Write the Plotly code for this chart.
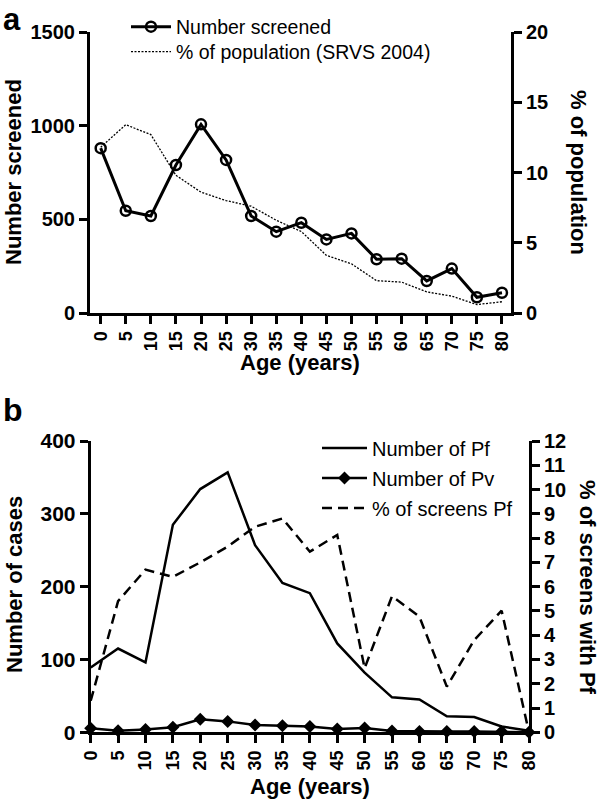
import plotly.graph_objects as go

ages = [0, 5, 10, 15, 20, 25, 30, 35, 40, 45, 50, 55, 60, 65, 70, 75, 80]
age_labels = [str(a) for a in ages]

# Panel a
number_screened = [880, 546, 518, 790, 1007, 817, 518, 434, 482, 393, 425, 287, 290, 171, 237, 84, 108]
pct_population = [11.8, 13.4, 12.7, 9.8, 8.6, 8.0, 7.6, 6.6, 5.8, 4.1, 3.5, 2.3, 2.2, 1.5, 1.2, 0.6, 0.8]

# Panel b
number_pf = [89, 115, 96, 285, 334, 357, 257, 205, 191, 122, 82, 48, 45, 22, 21, 8, 2]
number_pv = [5.5, 2, 4, 7, 18, 15, 10, 9, 8, 4.5, 6, 1.8, 1, 1, 1, 1, 0]
pct_screens_pf = [1.3, 5.4, 6.7, 6.4, 7.0, 7.65, 8.47, 8.81, 7.44, 8.13, 2.64, 5.61, 4.76, 1.88, 3.8, 5.01, 0]

FONT = "Liberation Sans, Arial, sans-serif"
BLACK = "#000000"
W, H = 600, 802


def px(x):
    return x / W


def py(y):
    return 1 - y / H


fig = go.Figure()

fig.add_trace(go.Scatter(
    x=ages, y=number_screened, name="Number screened",
    mode="lines+markers", xaxis="x", yaxis="y",
    line=dict(color=BLACK, width=3),
    marker=dict(symbol="circle-open", size=10, color=BLACK, line=dict(width=2.5, color=BLACK)),
    legend="legend", cliponaxis=False,
))
fig.add_trace(go.Scatter(
    x=ages, y=pct_population, name="% of population (SRVS 2004)",
    mode="lines", xaxis="x", yaxis="y2",
    line=dict(color=BLACK, width=1.3, dash="2px,1.5px"),
    legend="legend2",
))

fig.add_trace(go.Scatter(
    x=ages, y=number_pf, name="Number of Pf",
    mode="lines", xaxis="x2", yaxis="y3",
    line=dict(color=BLACK, width=2.5),
    legend="legend3", cliponaxis=False,
))
fig.add_trace(go.Scatter(
    x=ages, y=number_pv, name="Number of Pv",
    mode="lines+markers", xaxis="x2", yaxis="y3",
    line=dict(color=BLACK, width=2.5),
    marker=dict(symbol="diamond", size=10, color=BLACK),
    legend="legend4", cliponaxis=False,
))
fig.add_trace(go.Scatter(
    x=ages, y=pct_screens_pf, name="% of screens Pf",
    mode="lines", xaxis="x2", yaxis="y4",
    line=dict(color=BLACK, width=2.5, dash="10px,6px"),
    legend="legend5", cliponaxis=False,
))

axis_common = dict(
    showline=True, linecolor=BLACK, linewidth=3,
    ticks="outside", ticklen=8, tickwidth=3, tickcolor=BLACK,
    showgrid=False, zeroline=False, automargin=False,
)
tick_font_y = dict(family=FONT, size=20, color=BLACK, weight="bold")
tick_font_x = dict(family=FONT, size=18, color=BLACK, weight="bold")


def leg(xp, yc, size, iw):
    return dict(x=px(xp), y=py(yc), xanchor="left", yanchor="middle",
                font=dict(family=FONT, size=size, color=BLACK),
                bgcolor="rgba(0,0,0,0)", itemwidth=iw, borderwidth=0)


fig.update_layout(
    width=W, height=H,
    margin=dict(l=0, r=0, t=0, b=0),
    paper_bgcolor="white", plot_bgcolor="white",
    font=dict(family=FONT, color=BLACK),
    xaxis=dict(domain=[px(90), px(511)], anchor="y", range=[-2.13, 81.8],
               tickmode="array", tickvals=ages, ticktext=age_labels, tickangle=-90,
               tickfont=tick_font_x, **axis_common),
    yaxis=dict(domain=[py(313), py(32)], anchor="x", range=[0, 1500],
               tickvals=[0, 500, 1000, 1500], tickfont=tick_font_y, **axis_common),
    yaxis2=dict(overlaying="y", side="right", anchor="x", range=[0, 20],
                tickvals=[0, 5, 10, 15, 20], tickfont=tick_font_y, **axis_common),
    xaxis2=dict(domain=[px(90.7), px(529)], anchor="y3", range=[0, 80],
                tickmode="array", tickvals=ages, ticktext=age_labels, tickangle=-90,
                tickfont=tick_font_x, **axis_common),
    yaxis3=dict(domain=[py(732.3), py(441)], anchor="x2", range=[0, 400],
                tickvals=[0, 100, 200, 300, 400],
                tickfont=dict(family=FONT, size=21, color=BLACK, weight="bold"),
                **axis_common),
    yaxis4=dict(overlaying="y3", side="right", anchor="x2", range=[0, 12],
                tickvals=list(range(0, 13)), tickfont=tick_font_y, **axis_common),
    legend=leg(126, 27, 19.5, 40),
    legend2=leg(126, 52, 19.5, 40),
    legend3=leg(317, 448, 20, 45),
    legend4=leg(317, 478, 20, 45),
    legend5=leg(317, 508, 20, 45),
    showlegend=True,
)

ann_font = dict(family=FONT, size=22, color=BLACK, weight="bold")
annotations = [
    dict(text="a", x=px(1), y=py(0), xanchor="left", yanchor="top",
         font=dict(family=FONT, size=31, color=BLACK, weight="bold")),
    dict(text="b", x=px(1), y=py(410), xanchor="left", yanchor="middle",
         font=dict(family=FONT, size=32, color=BLACK, weight="bold")),
    dict(text="Number screened", x=px(14), y=py(172), textangle=-90, font=ann_font),
    dict(text="% of population", x=px(578), y=py(172), textangle=90, font=ann_font),
    dict(text="Age (years)", x=px(300), y=py(363), font=ann_font),
    dict(text="Number of cases", x=px(14), y=py(585), textangle=-90, font=ann_font),
    dict(text="% of screens with Pf", x=px(588), y=py(587), textangle=90, font=ann_font),
    dict(text="Age (years)", x=px(310), y=py(786), font=ann_font),
]
for a in annotations:
    a.update(xref="paper", yref="paper", showarrow=False)
    a.setdefault("xanchor", "center")
    a.setdefault("yanchor", "middle")
fig.update_layout(annotations=annotations)

fig.write_html("out.html", config={"displayModeBar": False},
               post_script="document.body.style.margin='0px';")
